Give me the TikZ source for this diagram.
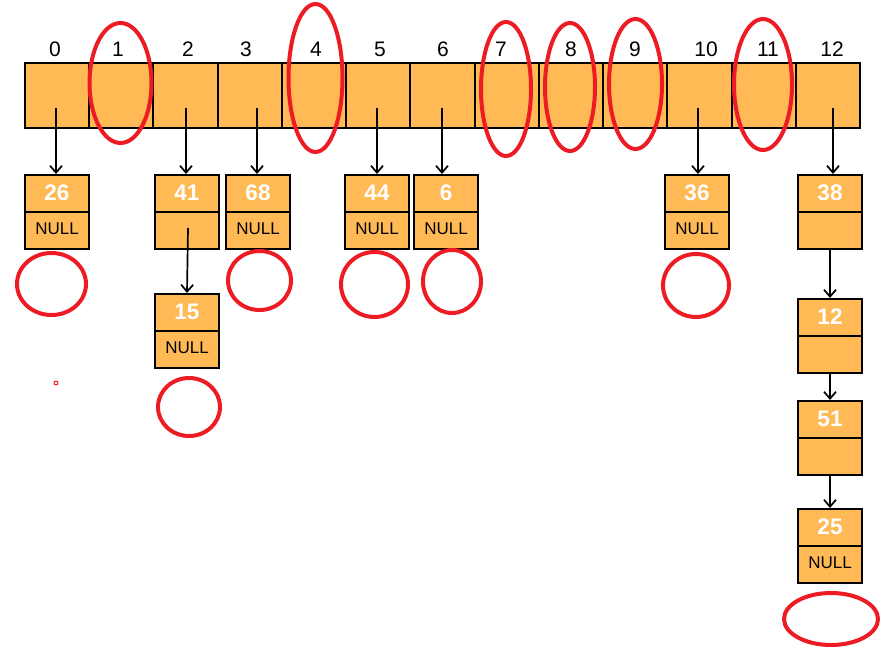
\documentclass[tikz,border=0pt]{standalone}
\usepackage{fontspec}
\setmainfont{Liberation Sans}
\usetikzlibrary{arrows.meta,calc}
\definecolor{cellfill}{RGB}{255,185,85}
\definecolor{markred}{RGB}{237,28,36}
\newcommand\listnodenull[4]{% name, x, y, number
  \node[listbox] (#1) at (#2,#3) {};
  \draw[line width=2pt] (#1.west) -- (#1.east);
  \node[numtxt] (#1v) at ($(#1.north)!0.5!(#1.center)$) {#4};
  \node[nulltxt] (#1n) at ($(#1.south)!0.5!(#1.center)+(0,-2)$) {NULL};
}
\newcommand\listnodelink[4]{% name, x, y, number
  \node[listbox] (#1) at (#2,#3) {};
  \draw[line width=2pt] (#1.west) -- (#1.east);
  \node[numtxt] (#1v) at ($(#1.north)!0.5!(#1.center)$) {#4};
}
\begin{document}
\begin{tikzpicture}[x=1pt,y=-1pt,
  cellbox/.style={draw=black,line width=2pt,fill=cellfill,minimum width=64.23pt,minimum height=65pt,inner sep=0pt,anchor=north west},
  listbox/.style={draw=black,line width=2pt,fill=cellfill,minimum width=64pt,minimum height=74pt,inner sep=0pt,anchor=north west},
  idx/.style={font=\fontsize{21}{21}\selectfont,inner sep=0pt},
  numtxt/.style={font=\fontsize{22.5}{22.5}\selectfont\bfseries,text=white,inner sep=0pt},
  nulltxt/.style={font=\fontsize{17}{17}\selectfont,inner sep=0pt},
  link/.style={draw=black,line width=1.7pt,-{Straight Barb[length=7pt,width=12pt,line width=1.7pt]}},
  redring/.style={draw=markred,line width=4pt}
]
\useasboundingbox (0,0) rectangle (888,666);
% array
\foreach \i in {0,...,12}{
  \node[cellbox] (c\i) at ({24+64.23*\i},62) {};
}
\foreach \i/\x in {0/55,1/118,2/188,3/246,4/316,5/380,6/443,7/501,8/571,9/635,10/706,11/768,12/832}{
  \node[idx] (l\i) at (\x,49) {\i};
}
% arrow start points
\coordinate (p0) at (56,108);
\coordinate (p2) at (186,108);
\coordinate (p3) at (257,108);
\coordinate (p5) at (377,108);
\coordinate (p6) at (442,108);
\coordinate (p10) at (698,108);
\coordinate (p12) at (833,108);
% list nodes
\listnodenull{n26}{24}{174}{26}
\listnodelink{n41}{154}{174}{41}
\listnodenull{n68}{225}{174}{68}
\listnodenull{n44}{344}{174}{44}
\listnodenull{n6}{413}{174}{6}
\listnodenull{n36}{664}{174}{36}
\listnodelink{n38}{797}{174}{38}
\listnodenull{n15}{154}{293}{15}
\listnodelink{n12}{797}{298}{12}
\listnodelink{n51}{797}{400}{51}
\listnodenull{n25}{797}{508}{25}
\coordinate (q41) at (188,228);
% arrows
\draw[link] (p0) -- (p0 |- n26.north);
\draw[link] (p2) -- (p2 |- n41.north);
\draw[link] (p3) -- (p3 |- n68.north);
\draw[link] (p5) -- (p5 |- n44.north);
\draw[link] (p6) -- (p6 |- n6.north);
\draw[link] (p10) -- (p10 |- n36.north);
\draw[link] (p12) -- (p12 |- n38.north);
\draw[link] (q41) -- (n15.north);
\draw[link] (n38.south) -- (n12.north);
\draw[link] (n12.south) -- (n51.north);
\draw[link] (n51.south) -- (n25.north);
% red marks
\draw[redring] (120.5,83) ellipse [x radius=31pt, y radius=60pt];
\draw[redring] (315.5,78) ellipse [x radius=27pt, y radius=74pt];
\draw[redring] (506,89) ellipse [x radius=25pt, y radius=67pt];
\draw[redring] (570,87) ellipse [x radius=25pt, y radius=64pt];
\draw[redring] (635.5,84) ellipse [x radius=26.5pt, y radius=65pt];
\draw[redring] (763,84.5) ellipse [x radius=29pt, y radius=65.5pt];
\draw[redring] (51.5,284) ellipse [x radius=34.5pt, y radius=31pt];
\draw[redring] (259.5,280.5) ellipse [x radius=31.5pt, y radius=29.5pt];
\draw[redring] (374.5,284.5) ellipse [x radius=33.5pt, y radius=32.5pt];
\draw[redring] (452,281.5) ellipse [x radius=29pt, y radius=31.5pt];
\draw[redring] (696,285.5) ellipse [x radius=33pt, y radius=31.5pt];
\draw[redring] (189,407) ellipse [x radius=31pt, y radius=29pt];
\draw[redring] (831,619) ellipse [x radius=47pt, y radius=26pt];
\draw[markred,line width=1pt] (56,383) circle [radius=2pt];
\end{tikzpicture}
\end{document}
